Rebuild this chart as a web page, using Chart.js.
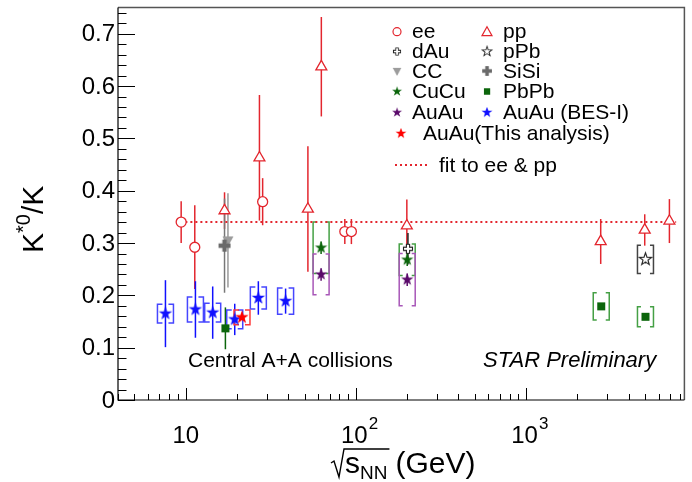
<!DOCTYPE html>
<html>
<head>
<meta charset="utf-8">
<script src="https://cdn.jsdelivr.net/npm/chart.js@4.4.1/dist/chart.umd.min.js"></script>
<style>
html, body { margin: 0; padding: 0; background: #fff; }
</style>
</head>
<body>
<canvas id="grafico" width="692" height="482"></canvas>
<script>
// ===== EIXOS =====
const xMin = 4, xMax = 8500;
const yMin = 0, yMax = 0.75;
const yTicks = [0, 0.1, 0.2, 0.3, 0.4, 0.5, 0.6, 0.7];
const yLabels = ["0", "0.1", "0.2", "0.3", "0.4", "0.5", "0.6", "0.7"];
const xTicks = [10, 100, 1000];
const xLabelBase = ["10", "10", "10"];
const xLabelExp = ["", "2", "3"];

// ===== DADOS (sqrt(s_NN) em GeV, K*0/K, erro estat., erro sist.) =====
const eeX = [9.4, 11.3, 28.3, 86, 94];
const eeY = [0.340, 0.292, 0.379, 0.322, 0.322];
const eeErr = [0.04, 0.08, 0.045, 0.024, 0.024];

const ppX = [16.9, 27.1, 52.2, 62.6, 199, 2740, 4970, 6940];
const ppY = [0.362, 0.463, 0.365, 0.637, 0.333, 0.303, 0.325, 0.342];
const ppErr = [0.035, 0.12, 0.12, 0.095, 0.05, 0.043, 0.03, 0.042];

const dAuX = [202];
const dAuY = [0.289];
const dAuErr = [0.03];

const ccX = [17.7];
const ccY = [0.305];
const ccErr = [0.09];

const sisiX = [16.9];
const sisiY = [0.295];
const sisiErr = [0.09];

const cucuX = [62.4, 200];
const cucuY = [0.291, 0.268];
const cucuErr = [0.012, 0.012];
const cucuSys = [0.049, 0.03];

const auauX = [62.4, 200];
const auauY = [0.240, 0.230];
const auauErr = [0.012, 0.012];
const auauSys = [0.039, 0.05];

const ppbX = [5020];
const ppbY = [0.269];
const ppbErr = [0.008];
const ppbSys = [0.027];

const pbpbX = [17.1, 2760, 5020];
const pbpbY = [0.137, 0.179, 0.159];
const pbpbErr = [0.04, 0.006, 0.005];
const pbpbSys = [null, 0.026, 0.019];

const besX = [7.6, 11.4, 14.4, 19.4, 26.7, 38.6];
const besY = [0.165, 0.173, 0.167, 0.154, 0.195, 0.189];
const besErr = [0.064, 0.054, 0.05, 0.03, 0.032, 0.024];
const besSys = [0.018, 0.024, 0.018, 0.018, 0.021, 0.025];

const esteX = [21.4];
const esteY = [0.158];
const esteErr = [0.005];
const esteSys = [0.014];

const fitX = [9.3, 7600];
const fitY = [0.34, 0.34];

// ===== CORES =====
const vermelho = "#e3262e";
const verde = "#0b650b";
const roxo = "#5a0a6a";
const azul = "#1010ff";
const FONTE = '"Liberation Sans", Arial, Helvetica, sans-serif';

// ===== MARCADORES =====
function marcador(tam, desenhar) {
    const c = document.createElement("canvas");
    c.width = tam;
    c.height = tam;
    const g = c.getContext("2d");
    g.translate(tam / 2, tam / 2);
    desenhar(g);
    return c;
}

function caminhoEstrela(g, R) {
    const r = R * 0.4;
    g.beginPath();
    for (let i = 0; i < 10; i++) {
        const a = -Math.PI / 2 + i * Math.PI / 5;
        const rr = i % 2 ? r : R;
        g.lineTo(Math.cos(a) * rr, Math.sin(a) * rr);
    }
    g.closePath();
}

function estrelaCheia(cor, R) {
    return marcador(2 * R + 4, g => {
        caminhoEstrela(g, R);
        g.fillStyle = cor;
        g.fill();
    });
}

function estrelaAberta(cor, R) {
    return marcador(2 * R + 4, g => {
        caminhoEstrela(g, R);
        g.fillStyle = "#fff";
        g.fill();
        g.strokeStyle = cor;
        g.lineWidth = 1.1;
        g.stroke();
    });
}

function caminhoCruz(g, a, t) {
    const p = [[-t, -a], [t, -a], [t, -t], [a, -t], [a, t], [t, t],
               [t, a], [-t, a], [-t, t], [-a, t], [-a, -t], [-t, -t]];
    g.beginPath();
    p.forEach(q => g.lineTo(q[0], q[1]));
    g.closePath();
}

const mkBes = estrelaCheia(azul, 7);
const mkEste = estrelaCheia("#ff0000", 7);
const mkCuCu = estrelaCheia(verde, 6.5);
const mkAuAu = estrelaCheia(roxo, 6.5);
const mkPPb = estrelaAberta("#222", 6.5);
const mkDAu = marcador(14, g => {
    caminhoCruz(g, 4.5, 1.6);
    g.fillStyle = "#fff";
    g.fill();
    g.strokeStyle = "#222";
    g.lineWidth = 1.1;
    g.stroke();
});
const mkSiSi = marcador(16, g => {
    caminhoCruz(g, 6, 2.2);
    g.fillStyle = "#6a6a6a";
    g.fill();
});
const mkCC = marcador(14, g => {
    g.beginPath();
    g.moveTo(-5.5, -4);
    g.lineTo(5.5, -4);
    g.lineTo(0, 6);
    g.closePath();
    g.fillStyle = "#9c9c9c";
    g.fill();
});
const mkPbPb = marcador(12, g => {
    g.fillStyle = verde;
    g.fillRect(-4, -4, 8, 8);
});

// ===== SERIES =====
function pontos(xs, ys) {
    return xs.map((x, i) => ({ x: x, y: ys[i] }));
}

const series = [
    { x: esteX, y: esteY, err: esteErr, sys: esteSys, cor: "#ff0000", corSys: "#ff3a3a", estilo: mkEste },
    { x: besX, y: besY, err: besErr, sys: besSys, cor: azul, corSys: "#4646ff", estilo: mkBes },
    { x: pbpbX, y: pbpbY, err: pbpbErr, sys: pbpbSys, cor: verde, corSys: "#45a045", estilo: mkPbPb },
    { x: ppbX, y: ppbY, err: ppbErr, sys: ppbSys, cor: "#222", corSys: "#444", estilo: mkPPb },
    { x: auauX, y: auauY, err: auauErr, sys: auauSys, cor: roxo, corSys: "#a857b8", estilo: mkAuAu },
    { x: cucuX, y: cucuY, err: cucuErr, sys: cucuSys, cor: verde, corSys: "#45a045", estilo: mkCuCu },
    { x: sisiX, y: sisiY, err: sisiErr, sys: null, cor: "#777", estilo: mkSiSi },
    { x: ccX, y: ccY, err: ccErr, sys: null, cor: "#999", estilo: mkCC },
    { x: dAuX, y: dAuY, err: dAuErr, sys: null, cor: "#222", estilo: mkDAu },
    { x: ppX, y: ppY, err: ppErr, sys: null, cor: vermelho, estilo: "triangle", raio: 6.3 },
    { x: eeX, y: eeY, err: eeErr, sys: null, cor: vermelho, estilo: "circle", raio: 5 }
];

const datasets = series.map((s, i) => ({
    data: pontos(s.x, s.y),
    pointStyle: s.estilo,
    pointRadius: s.raio || 6,
    pointBorderColor: s.cor,
    pointBackgroundColor: "#fff",
    pointBorderWidth: 1.3,
    order: i
}));

datasets.push({
    data: pontos(fitX, fitY),
    showLine: true,
    borderColor: vermelho,
    borderWidth: 2,
    borderDash: [2, 3],
    pointRadius: 0,
    order: 50
});

// ===== BARRAS DE ERRO E CAIXAS SISTEMATICAS =====
function colchete(ctx, px, yTop, yBot, meia, serifa) {
    ctx.beginPath();
    ctx.moveTo(px - meia + serifa, yTop);
    ctx.lineTo(px - meia, yTop);
    ctx.lineTo(px - meia, yBot);
    ctx.lineTo(px - meia + serifa, yBot);
    ctx.moveTo(px + meia - serifa, yTop);
    ctx.lineTo(px + meia, yTop);
    ctx.lineTo(px + meia, yBot);
    ctx.lineTo(px + meia - serifa, yBot);
    ctx.stroke();
}

const erros = {
    id: "erros",
    beforeDatasetsDraw(chart) {
        const ctx = chart.ctx;
        const xs = chart.scales.x, ys = chart.scales.y;
        ctx.save();
        for (let k = series.length - 1; k >= 0; k--) {
            const s = series[k];
            s.x.forEach((x, i) => {
                const px = xs.getPixelForValue(x);
                const py = ys.getPixelForValue(s.y[i]);
                if (s.sys && s.sys[i] != null) {
                    ctx.strokeStyle = s.corSys;
                    ctx.lineWidth = 1.5;
                    const largo = s.estilo === mkBes || s.estilo === mkEste;
                    colchete(ctx, px, ys.getPixelForValue(s.y[i] + s.sys[i]),
                        ys.getPixelForValue(s.y[i] - s.sys[i]), 8, largo ? 5 : 3.5);
                }
                ctx.strokeStyle = s.cor;
                ctx.lineWidth = 1.5;
                ctx.beginPath();
                ctx.moveTo(px, ys.getPixelForValue(s.y[i] + s.err[i]));
                ctx.lineTo(px, ys.getPixelForValue(s.y[i] - s.err[i]));
                ctx.stroke();
            });
        }
        ctx.restore();
    }
};

// ===== EIXOS, LEGENDA E TEXTOS =====
function textoLegenda(ctx, txt, x, y) {
    ctx.fillText(txt, x, y);
}

const moldura = {
    id: "moldura",
    afterDraw(chart) {
        const ctx = chart.ctx;
        const a = chart.chartArea;
        const xs = chart.scales.x, ys = chart.scales.y;
        ctx.save();

        // moldura
        ctx.strokeStyle = "#555";
        ctx.lineWidth = 1.5;
        ctx.beginPath();
        ctx.moveTo(a.left, a.top);
        ctx.lineTo(a.right, a.top);
        ctx.lineTo(a.right, a.bottom);
        ctx.stroke();
        ctx.strokeStyle = "#000";
        ctx.lineWidth = 1.2;
        ctx.beginPath();
        ctx.moveTo(a.left, a.top);
        ctx.lineTo(a.left, a.bottom);
        ctx.lineTo(a.right, a.bottom);
        ctx.stroke();

        // ticks do eixo y
        ctx.lineWidth = 1;
        ctx.beginPath();
        for (let n = 0; n <= 37; n++) {
            const v = n * 0.02;
            const py = Math.round(ys.getPixelForValue(v)) + 0.5;
            const len = n % 5 === 0 ? 17 : 8.5;
            ctx.moveTo(a.left, py);
            ctx.lineTo(a.left + len, py);
        }
        // ticks do eixo x (log)
        for (let dec = 1; dec <= 1000; dec *= 10) {
            for (let m = 1; m <= 9; m++) {
                const v = m * dec;
                if (v < xMin || v > xMax) continue;
                const px = Math.round(xs.getPixelForValue(v)) + 0.5;
                const len = m === 1 ? 12 : 6;
                ctx.moveTo(px, a.bottom);
                ctx.lineTo(px, a.bottom - len);
            }
        }
        ctx.stroke();

        ctx.fillStyle = "#000";
        ctx.font = "24px " + FONTE;
        ctx.textAlign = "right";
        ctx.textBaseline = "middle";
        yTicks.forEach((v, i) => {
            ctx.fillText(yLabels[i], a.left - 3, ys.getPixelForValue(v) + 1);
        });

        ctx.textBaseline = "alphabetic";
        ctx.textAlign = "left";
        xTicks.forEach((v, i) => {
            const px = xs.getPixelForValue(v);
            ctx.font = "24px " + FONTE;
            const wb = ctx.measureText(xLabelBase[i]).width;
            if (!xLabelExp[i]) {
                ctx.fillText(xLabelBase[i], px - wb / 2, 443);
            } else {
                const x0 = px - 15;
                ctx.fillText(xLabelBase[i], x0, 443);
                ctx.font = "17px " + FONTE;
                ctx.fillText(xLabelExp[i], x0 + wb + 1, 429);
            }
        });

        // titulo do eixo x: sqrt(s_NN) (GeV)
        const yb = 473;
        let x0 = 331;
        ctx.font = "30px " + FONTE;
        const ws = ctx.measureText("s").width;
        ctx.font = "19px " + FONTE;
        const wnn = ctx.measureText("NN").width;
        const fim = x0 + 14 + ws + wnn + 2;
        ctx.strokeStyle = "#000";
        ctx.lineWidth = 1.4;
        ctx.beginPath();
        ctx.moveTo(x0, yb - 10);
        ctx.lineTo(x0 + 3, yb - 12);
        ctx.lineTo(x0 + 8, yb + 4);
        ctx.lineTo(x0 + 13, yb - 24);
        ctx.lineTo(fim, yb - 24);
        ctx.stroke();
        ctx.font = "30px " + FONTE;
        ctx.fillText("s", x0 + 14, yb);
        ctx.font = "19px " + FONTE;
        ctx.fillText("NN", x0 + 14 + ws, yb + 6);
        ctx.font = "30px " + FONTE;
        ctx.fillText("(GeV)", fim + 6, yb);

        // titulo do eixo y: K*0/K
        ctx.save();
        ctx.translate(43, 253);
        ctx.rotate(-Math.PI / 2);
        ctx.font = "30px " + FONTE;
        ctx.fillText("K", 0, 0);
        let wx = ctx.measureText("K").width;
        ctx.font = "20px " + FONTE;
        ctx.fillText("*0", wx, -13);
        wx += ctx.measureText("*0").width;
        ctx.font = "30px " + FONTE;
        ctx.fillText("/K", wx, 0);
        ctx.restore();

        // legenda
        ctx.font = "21px " + FONTE;
        ctx.textBaseline = "middle";
        const linhas = [31.7, 51.5, 71, 91.5, 112.5];
        const col1 = ["ee", "dAu", "CC", "CuCu", "AuAu"];
        const col2 = ["pp", "pPb", "SiSi", "PbPb", "AuAu (BES-I)"];
        const mk1 = [null, mkDAu, mkCC, mkCuCu, mkAuAu];
        const mk2 = [null, mkPPb, mkSiSi, mkPbPb, mkBes];
        const esc = 0.8;
        linhas.forEach((ly, i) => {
            if (mk1[i]) {
                const m = mk1[i];
                ctx.drawImage(m, 397 - m.width * esc / 2, ly - m.height * esc / 2, m.width * esc, m.height * esc);
            }
            if (mk2[i]) {
                const m = mk2[i];
                ctx.drawImage(m, 487 - m.width * esc / 2, ly - m.height * esc / 2, m.width * esc, m.height * esc);
            }
            ctx.fillStyle = "#000";
            textoLegenda(ctx, col1[i], 412, ly + 1);
            textoLegenda(ctx, col2[i], 503, ly + 1);
        });
        // circulo aberto (ee) e triangulo aberto (pp)
        ctx.strokeStyle = vermelho;
        ctx.lineWidth = 1.2;
        ctx.beginPath();
        ctx.arc(397, linhas[0], 4, 0, 2 * Math.PI);
        ctx.stroke();
        ctx.beginPath();
        ctx.moveTo(487, linhas[0] - 5);
        ctx.lineTo(492, linhas[0] + 4);
        ctx.lineTo(482, linhas[0] + 4);
        ctx.closePath();
        ctx.stroke();

        const mE = mkEste;
        ctx.drawImage(mE, 401 - mE.width * esc / 2, 133.5 - mE.height * esc / 2, mE.width * esc, mE.height * esc);
        ctx.fillStyle = "#000";
        textoLegenda(ctx, "AuAu(This analysis)", 423, 134.5);

        ctx.strokeStyle = vermelho;
        ctx.lineWidth = 2;
        ctx.setLineDash([2, 3]);
        ctx.beginPath();
        ctx.moveTo(395, 165);
        ctx.lineTo(429, 165);
        ctx.stroke();
        ctx.setLineDash([]);
        textoLegenda(ctx, "fit to ee & pp", 439, 166);

        // textos no grafico
        ctx.textBaseline = "alphabetic";
        ctx.font = "21px " + FONTE;
        ctx.fillText("Central A+A collisions", 188, 367);
        ctx.font = "italic 22px " + FONTE;
        ctx.fillText("STAR Preliminary", 483, 367);

        ctx.restore();
    }
};

// ===== GRAFICO =====
const canvas = document.getElementById("grafico");
window.grafico = new Chart(canvas.getContext("2d"), {
    type: "scatter",
    data: { datasets: datasets },
    options: {
        responsive: false,
        animation: false,
        devicePixelRatio: 1,
        layout: { padding: { left: 118, right: 1, top: 6, bottom: 82 } },
        plugins: {
            legend: { display: false },
            tooltip: { enabled: false }
        },
        scales: {
            x: { type: "logarithmic", min: xMin, max: xMax, display: false },
            y: { type: "linear", min: yMin, max: yMax, display: false }
        }
    },
    plugins: [erros, moldura]
});
</script>
</body>
</html>
